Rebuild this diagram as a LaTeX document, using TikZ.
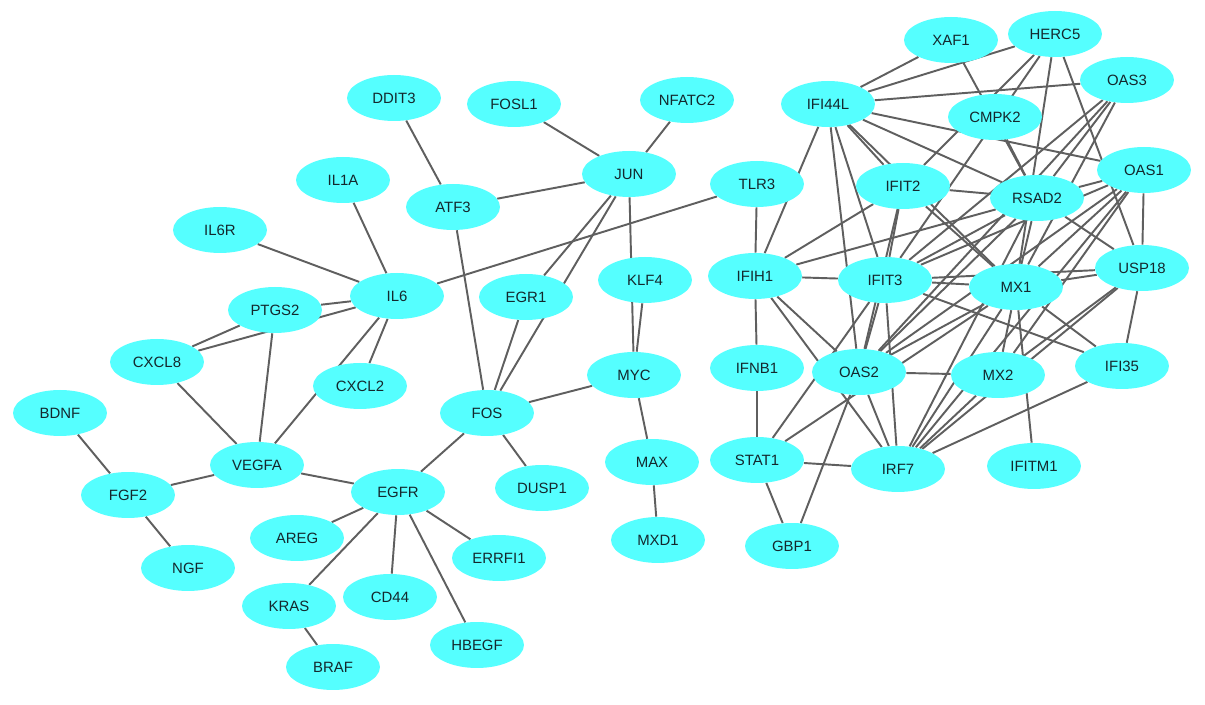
\documentclass[tikz,border=0pt]{standalone}
\usepackage{fontspec}
\setmainfont{Liberation Sans}
\usetikzlibrary{shapes.geometric}
\definecolor{nodecyan}{RGB}{85,255,255}
\definecolor{edgegray}{RGB}{95,95,95}
\definecolor{labeltext}{RGB}{20,40,45}
\pgfdeclarelayer{bgfill}
\pgfdeclarelayer{edges}
\pgfsetlayers{bgfill,edges,main}
\tikzset{
  gene/.style={ellipse, fill=nodecyan, draw=none, minimum width=1.88cm, minimum height=0.92cm, inner sep=0pt, font=\fontsize{8.5}{10}\selectfont, text=labeltext},
  link/.style={draw=edgegray, line width=1.1pt}
}
\begin{document}
\begin{tikzpicture}[x=0.02cm, y=-0.02cm]
\begin{pgfonlayer}{bgfill}
\fill[white] (0,0) rectangle (1205,705);
\end{pgfonlayer}
\useasboundingbox (0,0) rectangle (1205,705);
% left cluster
\node[gene] (DDIT3) at (394,98) {DDIT3};
\node[gene] (FOSL1) at (514,104) {FOSL1};
\node[gene] (NFATC2) at (687,100) {NFATC2};
\node[gene] (IL1A) at (343,180) {IL1A};
\node[gene] (JUN) at (629,174) {JUN};
\node[gene] (ATF3) at (453,207) {ATF3};
\node[gene] (TLR3) at (757,184) {TLR3};
\node[gene] (IL6R) at (220,230) {IL6R};
\node[gene] (IL6) at (397,296) {IL6};
\node[gene] (EGR1) at (526,297) {EGR1};
\node[gene] (KLF4) at (645,280) {KLF4};
\node[gene] (PTGS2) at (275,310) {PTGS2};
\node[gene] (CXCL8) at (157,362) {CXCL8};
\node[gene] (CXCL2) at (360,386) {CXCL2};
\node[gene] (MYC) at (634,375) {MYC};
\node[gene] (FOS) at (487,413) {FOS};
\node[gene] (BDNF) at (60,413) {BDNF};
\node[gene] (VEGFA) at (257,465) {VEGFA};
\node[gene] (FGF2) at (128,495) {FGF2};
\node[gene] (EGFR) at (398,492) {EGFR};
\node[gene] (MAX) at (652,462) {MAX};
\node[gene] (DUSP1) at (542,488) {DUSP1};
\node[gene] (AREG) at (297,538) {AREG};
\node[gene] (ERRFI1) at (499,558) {ERRFI1};
\node[gene] (MXD1) at (658,540) {MXD1};
\node[gene] (NGF) at (188,568) {NGF};
\node[gene] (CD44) at (390,597) {CD44};
\node[gene] (KRAS) at (289,606) {KRAS};
\node[gene] (HBEGF) at (477,645) {HBEGF};
\node[gene] (BRAF) at (333,667) {BRAF};
% right cluster
\node[gene] (XAF1) at (951,40) {XAF1};
\node[gene] (HERC5) at (1055,34) {HERC5};
\node[gene] (OAS3) at (1127,80) {OAS3};
\node[gene] (IFI44L) at (828,104) {IFI44L};
\node[gene] (CMPK2) at (995,117) {CMPK2};
\node[gene] (IFIT2) at (903,186) {IFIT2};
\node[gene] (RSAD2) at (1037,198) {RSAD2};
\node[gene] (OAS1) at (1144,170) {OAS1};
\node[gene] (IFIH1) at (755,276) {IFIH1};
\node[gene] (IFIT3) at (885,280) {IFIT3};
\node[gene] (MX1) at (1016,287) {MX1};
\node[gene] (USP18) at (1142,268) {USP18};
\node[gene] (IFNB1) at (757,368) {IFNB1};
\node[gene] (OAS2) at (859,372) {OAS2};
\node[gene] (MX2) at (998,375) {MX2};
\node[gene] (IFI35) at (1122,366) {IFI35};
\node[gene] (STAT1) at (757,460) {STAT1};
\node[gene] (IRF7) at (898,469) {IRF7};
\node[gene] (IFITM1) at (1034,466) {IFITM1};
\node[gene] (GBP1) at (792,546) {GBP1};
\begin{pgfonlayer}{edges}
\foreach \a/\b in {
  DDIT3/ATF3, FOSL1/JUN, NFATC2/JUN, ATF3/JUN, ATF3/FOS, JUN/EGR1, JUN/FOS,
  JUN/MYC, KLF4/MYC, EGR1/FOS, MYC/FOS, MYC/MAX, MAX/MXD1, FOS/EGFR, FOS/DUSP1,
  IL1A/IL6, IL6R/IL6, TLR3/IL6, IL6/PTGS2, IL6/CXCL8, IL6/CXCL2, IL6/VEGFA,
  PTGS2/CXCL8, PTGS2/VEGFA, CXCL8/VEGFA, BDNF/FGF2, FGF2/VEGFA, FGF2/NGF,
  VEGFA/EGFR, EGFR/AREG, EGFR/ERRFI1, EGFR/CD44, EGFR/KRAS, EGFR/HBEGF, KRAS/BRAF,
  XAF1/IFI44L, XAF1/RSAD2, CMPK2/RSAD2, HERC5/IFI44L, HERC5/IFIT2, HERC5/IFIT3,
  HERC5/MX1, HERC5/USP18, IFI44L/OAS3, IFI44L/OAS1, IFI44L/RSAD2, IFI44L/IFIT2,
  IFI44L/MX1, IFI44L/IFIT3, IFI44L/OAS2, IFI44L/IFIH1,
  OAS3/RSAD2, OAS3/IFIT3, OAS3/MX1, OAS3/OAS2,
  OAS1/RSAD2, OAS1/IFIT3, OAS1/MX1, OAS1/OAS2, OAS1/IRF7, OAS1/USP18, OAS1/MX2,
  IFIT2/RSAD2, IFIT2/IFIT3, IFIT2/OAS2, IFIT2/MX1, IFIT2/IFIH1,
  RSAD2/USP18, RSAD2/MX1, RSAD2/IFIT3, RSAD2/IFIH1, RSAD2/OAS2, RSAD2/IRF7,
  TLR3/IFIH1, IFIH1/IFIT3, IFIH1/IFNB1, IFIH1/OAS2, IFIH1/IRF7,
  IFIT3/MX1, IFIT3/USP18, IFIT3/IFI35, IFIT3/OAS2, IFIT3/IRF7, IFIT3/STAT1,
  MX1/USP18, MX1/OAS2, MX1/MX2, MX1/IRF7, MX1/IFI35, MX1/STAT1, MX1/IFITM1,
  MX2/OAS2, MX2/IRF7, MX2/USP18, USP18/IRF7, USP18/IFI35, IFI35/IRF7,
  IFNB1/STAT1, STAT1/IRF7, STAT1/GBP1, OAS2/GBP1, OAS2/IRF7}
  \draw[link] (\a) -- (\b);
\end{pgfonlayer}
\end{tikzpicture}
\end{document}
